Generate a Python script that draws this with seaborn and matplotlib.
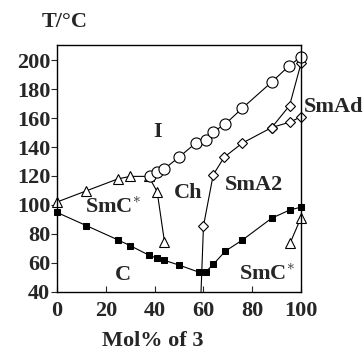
import matplotlib
matplotlib.use('Agg')
import matplotlib.pyplot as plt
import seaborn as sns

# Phase diagram data (Mol% of 3 vs T/°C)
iso_x = [38, 41, 44, 50, 57, 61, 64, 69, 76, 88, 95, 100]
iso_y = [120, 122.5, 125, 133, 143, 145, 150.5, 156, 167, 185, 196, 202.5]

cryst_x = [0, 12, 25, 30, 37.5, 41, 44, 50, 58, 61, 64, 69, 76, 88, 95.5, 100]
cryst_y = [94.7, 85.6, 75.7, 71.7, 65.3, 63, 61.6, 58.3, 53.5, 53.7, 58.8, 68, 75.7, 90.8, 96.5, 98.4]

smc_x = [0, 12, 25, 30, 37.5, 41, 44]
smc_y = [102, 109.7, 118, 119.7, 119.7, 109.2, 74.5]

smc_right_x = [95.5, 100]
smc_right_y = [73.4, 91.2]

sma2_x = [60, 64, 68.5, 76, 88, 95.3, 100]
sma2_y = [85.4, 120.8, 133, 142.8, 153.5, 157.2, 160.9]

smad_x = [88, 95.3, 100]
smad_y = [153.5, 168.7, 197.9]

ch_edge_x = [59, 60]
ch_edge_y = [40, 85.4]

sns.set_style("ticks")
plt.rcParams['font.family'] = ['Liberation Serif', 'DejaVu Serif']
plt.rcParams['font.weight'] = 'bold'
plt.rcParams['mathtext.fontset'] = 'custom'
plt.rcParams['mathtext.bf'] = 'Liberation Serif:bold'
plt.rcParams['mathtext.rm'] = 'Liberation Serif:bold'

fig = plt.figure(figsize=(3.64, 3.5), dpi=100)
ax = fig.add_axes([0.157, 0.167, 0.670, 0.704])

line_kw = dict(color='black', linewidth=0.8, sort=False, estimator=None, ax=ax, clip_on=False)
open_kw = dict(markerfacecolor='white', markeredgecolor='black', markeredgewidth=0.8)

sns.lineplot(x=ch_edge_x, y=ch_edge_y, **line_kw)
sns.lineplot(x=cryst_x, y=cryst_y, marker='s', markersize=4.5,
             markerfacecolor='black', markeredgecolor='black', **line_kw)
sns.lineplot(x=smc_x, y=smc_y, marker='^', markersize=7.5, **open_kw, **line_kw)
sns.lineplot(x=smc_right_x, y=smc_right_y, marker='^', markersize=7.5, **open_kw, **line_kw)
sns.lineplot(x=sma2_x, y=sma2_y, marker='D', markersize=5.5, **open_kw, **line_kw)
sns.lineplot(x=smad_x, y=smad_y, marker='D', markersize=5.5, **open_kw, **line_kw)
sns.lineplot(x=iso_x, y=iso_y, marker='o', markersize=8, **open_kw, **line_kw)

ax.set_xlim(0, 100)
ax.set_ylim(40, 210.5)
ax.set_xticks([0, 20, 40, 60, 80, 100])
ax.set_yticks([40, 60, 80, 100, 120, 140, 160, 180, 200])
ax.tick_params(axis='x', direction='in', length=4, width=0.8, labelsize=16, pad=7)
ax.tick_params(axis='y', direction='out', length=4, width=0.8, labelsize=16, pad=1)
for lab in ax.get_xticklabels() + ax.get_yticklabels():
    lab.set_fontweight('bold')
for sp in ax.spines.values():
    sp.set_visible(True)
    sp.set_linewidth(1.0)
    sp.set_color('black')

ax.set_xlabel('')
ax.set_ylabel('')

txt = dict(fontsize=16, fontweight='bold', ha='center', va='center')
smc_label = r'$\mathbf{SmC}^{\ast}$'
ax.text(41, 150.7, 'I', **txt)
ax.text(23, 97.8, smc_label, **txt)
ax.text(27, 51.4, 'C', **txt)
ax.text(53.8, 108, 'Ch', **txt)
ax.text(80.5, 113.9, 'SmA2', **txt)
ax.text(113.4, 167.4, 'SmAd', clip_on=False, **txt)
ax.text(86, 51.4, smc_label, **txt)

fig.text(65 / 364, 1 - 21.7 / 350, 'T/°C', **txt)
fig.text(153 / 364, 1 - 341 / 350, 'Mol% of 3', **txt)

plt.savefig('out.png', dpi=100)
